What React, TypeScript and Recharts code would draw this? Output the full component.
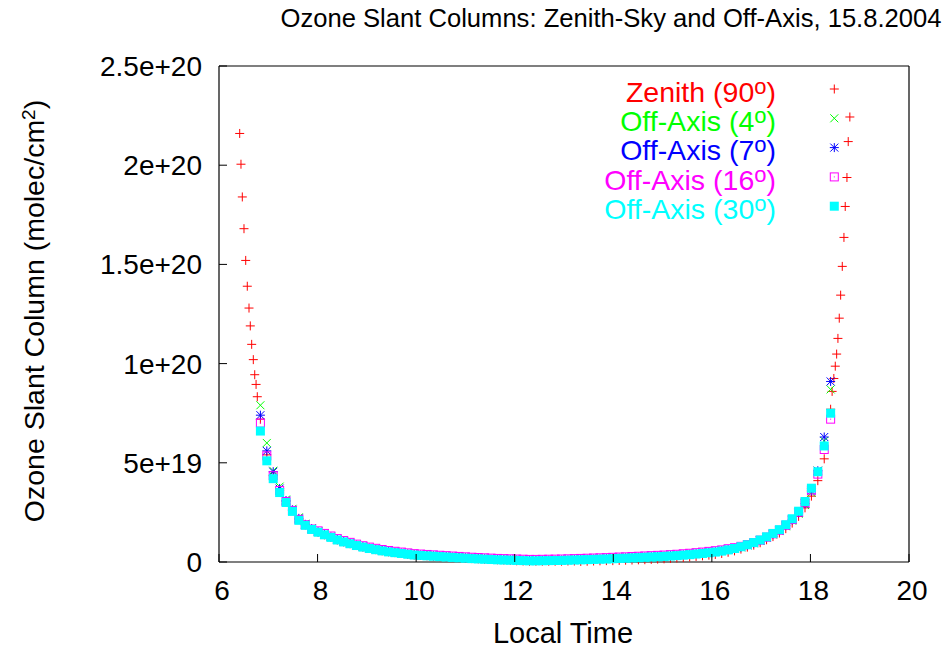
import React from "react";
import { ScatterChart, Scatter, XAxis, YAxis } from "recharts";

// slant columns in units of 1e19 molec/cm2, time in hours local time
const xTicks = [6, 8, 10, 12, 14, 16, 18, 20];
const yTicks = [0, 5, 10, 15, 20, 25];
const yTickLabels = ["0", "5e+19", "1e+20", "1.5e+20", "2e+20", "2.5e+20"];

const offAxisTimes = [
  6.84, 6.97, 7.1, 7.23, 7.36, 7.49, 7.62, 7.75, 7.88, 8.01,
  8.14, 8.27, 8.4, 8.53, 8.66, 8.79, 8.92, 9.05, 9.18, 9.31,
  9.44, 9.57, 9.7, 9.83, 9.96, 10.09, 10.22, 10.35, 10.48, 10.61,
  10.74, 10.87, 11.0, 11.13, 11.26, 11.39, 11.52, 11.65, 11.78, 11.91,
  12.04, 12.17, 12.3, 12.43, 12.56, 12.69, 12.82, 12.95, 13.08, 13.21,
  13.34, 13.47, 13.6, 13.73, 13.86, 13.99, 14.12, 14.25, 14.38, 14.51,
  14.64, 14.77, 14.9, 15.03, 15.16, 15.29, 15.42, 15.55, 15.68, 15.81,
  15.94, 16.07, 16.2, 16.33, 16.46, 16.59, 16.72, 16.85, 16.98, 17.11,
  17.24, 17.37, 17.5, 17.63, 17.76, 17.89, 18.02, 18.15, 18.28, 18.41,
];

const offAxis4 = [
  7.9, 6.0, 4.6, 3.8, 3.15, 2.68, 2.25, 1.93, 1.7, 1.54,
  1.41, 1.28, 1.15, 1.05, 0.96, 0.87, 0.79, 0.72, 0.66, 0.6,
  0.55, 0.51, 0.47, 0.43, 0.39, 0.37, 0.35, 0.33, 0.31, 0.29,
  0.27, 0.25, 0.23, 0.21, 0.195, 0.18, 0.165, 0.15, 0.14, 0.13,
  0.12, 0.11, 0.1, 0.1, 0.105, 0.11, 0.115, 0.12, 0.13, 0.14,
  0.15, 0.16, 0.17, 0.18, 0.19, 0.205, 0.22, 0.23, 0.245, 0.26,
  0.275, 0.29, 0.305, 0.32, 0.34, 0.36, 0.385, 0.41, 0.44, 0.47,
  0.505, 0.54, 0.58, 0.64, 0.7, 0.74, 0.84, 0.94, 1.07, 1.22,
  1.38, 1.56, 1.8, 2.08, 2.43, 2.87, 3.49, 4.6, 6.1, 8.7,
];

const offAxis7 = [
  7.4, 5.6, 4.55, 3.7, 3.1, 2.63, 2.2, 1.9, 1.68, 1.52,
  1.39, 1.26, 1.13, 1.03, 0.94, 0.85, 0.77, 0.7, 0.64, 0.58,
  0.53, 0.49, 0.45, 0.41, 0.37, 0.35, 0.33, 0.31, 0.29, 0.27,
  0.25, 0.23, 0.21, 0.19, 0.175, 0.16, 0.145, 0.13, 0.12, 0.11,
  0.1, 0.09, 0.08, 0.08, 0.085, 0.09, 0.095, 0.1, 0.11, 0.12,
  0.13, 0.14, 0.15, 0.16, 0.17, 0.185, 0.2, 0.21, 0.225, 0.24,
  0.255, 0.27, 0.285, 0.3, 0.32, 0.34, 0.365, 0.39, 0.42, 0.45,
  0.485, 0.52, 0.57, 0.63, 0.69, 0.75, 0.85, 0.96, 1.08, 1.24,
  1.41, 1.59, 1.83, 2.12, 2.48, 2.94, 3.58, 4.6, 6.3, 9.1,
];

const offAxis16 = [
  7.0, 5.35, 4.35, 3.6, 3.05, 2.6, 2.15, 1.88, 1.66, 1.57,
  1.44, 1.31, 1.18, 1.08, 0.99, 0.9, 0.82, 0.75, 0.69, 0.63,
  0.58, 0.54, 0.5, 0.46, 0.42, 0.4, 0.38, 0.36, 0.34, 0.32,
  0.3, 0.28, 0.26, 0.24, 0.225, 0.21, 0.195, 0.18, 0.17, 0.16,
  0.15, 0.14, 0.13, 0.13, 0.135, 0.14, 0.145, 0.15, 0.16, 0.17,
  0.18, 0.19, 0.2, 0.21, 0.22, 0.235, 0.25, 0.26, 0.275, 0.29,
  0.305, 0.32, 0.335, 0.35, 0.37, 0.39, 0.415, 0.44, 0.47, 0.5,
  0.535, 0.57, 0.61, 0.67, 0.72, 0.79, 0.88, 0.98, 1.1, 1.25,
  1.42, 1.6, 1.85, 2.14, 2.51, 2.98, 3.63, 4.43, 5.67, 7.2,
];

const offAxis30 = [
  6.6, 5.1, 4.2, 3.5, 3.0, 2.55, 2.1, 1.85, 1.64, 1.5,
  1.37, 1.24, 1.11, 1.01, 0.92, 0.83, 0.75, 0.68, 0.62, 0.56,
  0.51, 0.47, 0.43, 0.39, 0.35, 0.33, 0.31, 0.29, 0.27, 0.25,
  0.23, 0.21, 0.19, 0.17, 0.155, 0.14, 0.125, 0.11, 0.1, 0.09,
  0.08, 0.07, 0.06, 0.06, 0.065, 0.07, 0.075, 0.08, 0.09, 0.1,
  0.11, 0.12, 0.13, 0.14, 0.15, 0.165, 0.18, 0.19, 0.205, 0.22,
  0.235, 0.25, 0.265, 0.28, 0.3, 0.32, 0.345, 0.37, 0.4, 0.43,
  0.465, 0.5, 0.55, 0.61, 0.68, 0.77, 0.87, 0.98, 1.11, 1.27,
  1.44, 1.63, 1.88, 2.18, 2.56, 3.05, 3.72, 4.55, 5.85, 7.5,
];

// zenith: dense at low sun, one per scan cycle during the day
const zenithMorningTimes = [6.42, 6.446, 6.473, 6.507, 6.542, 6.574, 6.609, 6.635, 6.663, 6.696, 6.725, 6.752, 6.777];
const zenithMorning = [21.6, 20.05, 18.4, 16.8, 15.2, 13.9, 12.8, 11.9, 10.97, 10.2, 9.44, 8.95, 8.33];
const zenithDay = [
  7.2, 5.4, 4.35, 3.6, 3.05, 2.6, 2.15, 1.87, 1.65, 1.5,
  1.37, 1.24, 1.11, 1.01, 0.92, 0.83, 0.75, 0.68, 0.62, 0.56,
  0.51, 0.47, 0.43, 0.39, 0.35, 0.33, 0.31, 0.29, 0.27, 0.25,
  0.23, 0.21, 0.19, 0.17, 0.155, 0.14, 0.125, 0.11, 0.1, 0.09,
  0.06, 0.05, 0.04, 0.04, 0.04, 0.04, 0.04, 0.04, 0.05, 0.05,
  0.03, 0.04, 0.05, 0.06, 0.07, 0.07, 0.08, 0.09, 0.1, 0.11,
  0.115, 0.13, 0.145, 0.16, 0.18, 0.2, 0.225, 0.25, 0.28, 0.31,
  0.345, 0.38, 0.43, 0.49, 0.56, 0.65, 0.75, 0.85, 0.97, 1.12,
  1.28, 1.46, 1.68, 1.96, 2.3, 2.73, 3.32, 4.1, 5.2, 7.7,
];
const zenithEveningTimes = [18.44, 18.475, 18.504, 18.532, 18.558, 18.585, 18.613, 18.646, 18.68, 18.706, 18.741, 18.767, 18.8];
const zenithEvening = [8.6, 9.25, 9.87, 10.48, 11.27, 12.29, 13.45, 14.9, 16.36, 17.92, 19.38, 21.19, 22.43];

const W = 946;
const H = 649;
const FONT = "'Liberation Sans', Arial, Helvetica, sans-serif";
const TICK = 8;

const toPoints = (times: number[], vals: number[]) => times.map((t, i) => ({ t, v: vals[i] }));

const zenithData = [
  ...toPoints(zenithMorningTimes, zenithMorning),
  ...toPoints(offAxisTimes, zenithDay),
  ...toPoints(zenithEveningTimes, zenithEvening),
];

type MarkProps = { cx: number; cy: number; color: string };

function Plus({ cx, cy, color }: MarkProps) {
  return <path d={`M${cx - 4.5},${cy}H${cx + 4.5}M${cx},${cy - 4.5}V${cy + 4.5}`} stroke={color} strokeWidth={1} fill="none" />;
}
function Cross({ cx, cy, color }: MarkProps) {
  return <path d={`M${cx - 4},${cy - 4}L${cx + 4},${cy + 4}M${cx - 4},${cy + 4}L${cx + 4},${cy - 4}`} stroke={color} strokeWidth={1} fill="none" />;
}
function Star({ cx, cy, color }: MarkProps) {
  return (
    <g>
      <Plus cx={cx} cy={cy} color={color} />
      <Cross cx={cx} cy={cy} color={color} />
    </g>
  );
}
function Box({ cx, cy, color }: MarkProps) {
  return (
    <g>
      <rect x={cx - 4} y={cy - 4} width={8} height={8} stroke={color} strokeWidth={1} fill="none" />
      <rect x={cx - 0.5} y={cy - 0.5} width={1} height={1} fill={color} />
    </g>
  );
}
function FilledBox({ cx, cy, color }: MarkProps) {
  return <rect x={cx - 4.5} y={cy - 4.5} width={9} height={9} fill={color} />;
}

const series = [
  { name: "Zenith", angle: "90", color: "#ff0000", Mark: Plus, data: zenithData },
  { name: "Off-Axis", angle: "4", color: "#00ff00", Mark: Cross, data: toPoints(offAxisTimes, offAxis4) },
  { name: "Off-Axis", angle: "7", color: "#0000ff", Mark: Star, data: toPoints(offAxisTimes, offAxis7) },
  { name: "Off-Axis", angle: "16", color: "#ff00ff", Mark: Box, data: toPoints(offAxisTimes, offAxis16) },
  { name: "Off-Axis", angle: "30", color: "#00ffff", Mark: FilledBox, data: toPoints(offAxisTimes, offAxis30) },
];

const BottomTick = ({ x, y, payload }: any) => (
  <g>
    <line x1={x} x2={x} y1={y} y2={y - TICK} stroke="#000" />
    <text x={x + 3} y={y + 38} textAnchor="middle" fontFamily={FONT} fontSize={28} fill="#000">
      {payload.value}
    </text>
  </g>
);
const TopTick = ({ x, y }: any) => <line x1={x} x2={x} y1={y} y2={y + TICK} stroke="#000" />;
const LeftTick = ({ x, y, payload }: any) => (
  <g>
    <line x1={x} x2={x + TICK} y1={y} y2={y} stroke="#000" />
    <text x={x - 17} y={y + 10} textAnchor="end" fontFamily={FONT} fontSize={28} fill="#000">
      {yTickLabels[yTicks.indexOf(payload.value)]}
    </text>
  </g>
);
const RightTick = ({ x, y }: any) => <line x1={x} x2={x - TICK} y1={y} y2={y} stroke="#000" />;

const axisLine = { stroke: "#000", strokeWidth: 1.2 };

export default function App() {
  return (
    <div style={{ position: "absolute", left: 0, top: 0, width: W, height: H, background: "#fff" }}>
      <ScatterChart width={W} height={H} margin={{ top: 65, right: 36, bottom: 86, left: 218 }}>
        <XAxis dataKey="t" type="number" domain={[6, 20]} ticks={xTicks} interval={0} height={1}
          tickSize={0} tickMargin={0} tickLine={false} axisLine={axisLine} tick={BottomTick} />
        <XAxis xAxisId="top" orientation="top" dataKey="t" type="number" domain={[6, 20]} ticks={xTicks}
          interval={0} height={1} tickSize={0} tickMargin={0} tickLine={false} axisLine={axisLine} tick={TopTick} />
        <YAxis dataKey="v" type="number" domain={[0, 25]} ticks={yTicks} interval={0} width={1}
          tickSize={0} tickMargin={0} tickLine={false} axisLine={axisLine} tick={LeftTick} />
        <YAxis yAxisId="right" orientation="right" dataKey="v" type="number" domain={[0, 25]} ticks={yTicks}
          interval={0} width={1} tickSize={0} tickMargin={0} tickLine={false} axisLine={axisLine} tick={RightTick} />
        {series.map((s) => (
          <Scatter key={s.color} data={s.data} fill={s.color} isAnimationActive={false}
            shape={(p: any) => <s.Mark cx={p.cx} cy={p.cy} color={s.color} />} />
        ))}
      </ScatterChart>
      <svg width={W} height={H} style={{ position: "absolute", left: 0, top: 0, pointerEvents: "none" }}>
        <text x={611} y={27} textAnchor="middle" fontFamily={FONT} fontSize={25.6} fill="#000">
          Ozone Slant Columns: Zenith-Sky and Off-Axis, 15.8.2004
        </text>
        <text x={563} y={643} textAnchor="middle" fontFamily={FONT} fontSize={29} fill="#000">
          Local Time
        </text>
        <text transform="translate(44,311) rotate(-90)" textAnchor="middle" fontFamily={FONT} fontSize={28.5} fill="#000">
          Ozone Slant Column (molec/cm<tspan dy={-9} fontSize={19}>2</tspan>
          <tspan dy={9}>)</tspan>
        </text>
        {series.map((s, i) => (
          <g key={s.color}>
            <text x={776} y={101.7 + i * 29.3} textAnchor="end" fontFamily={FONT} fontSize={28.5} fill={s.color}>
              {s.name} ({s.angle}
              <tspan dy={-8} fontSize={22}>o</tspan>
              <tspan dy={8}>)</tspan>
            </text>
            <s.Mark cx={834.3} cy={89 + i * 29.3} color={s.color} />
          </g>
        ))}
      </svg>
    </div>
  );
}
